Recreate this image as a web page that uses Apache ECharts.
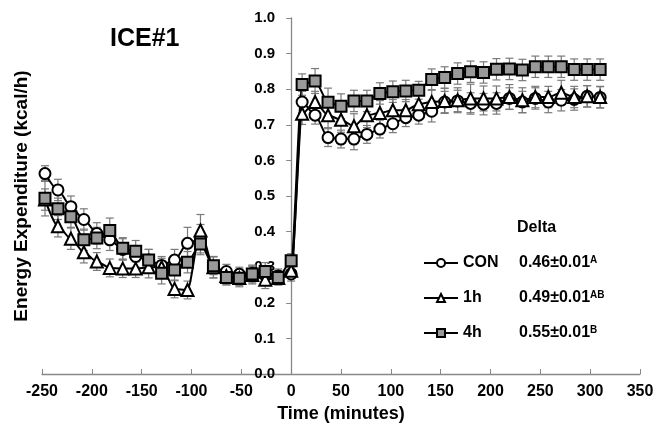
<!DOCTYPE html>
<html>
<head>
<meta charset="utf-8">
<title>ICE#1</title>
<script src="https://cdn.jsdelivr.net/npm/echarts@6/dist/echarts.min.js"></script>
<style>
html,body{margin:0;padding:0;background:#fff}
#chart{width:653px;height:425px}
</style>
</head>
<body>
<div id="chart"></div>
<script>
// time points (minutes)
var times = [-247,-234,-221,-208,-195,-182,-169,-156,-143,-130,-117,-104,-91,-78,-65,-52,-39,-26,-13,0,
             11,24,37,50,63,76,89,102,115,128,141,154,167,180,193,206,219,232,245,258,271,284,297,310];

var conMean = [0.563,0.517,0.47,0.434,0.395,0.377,0.35,0.33,0.32,0.305,0.32,0.367,0.38,0.30,0.288,0.28,0.283,0.278,0.275,0.281,
               0.764,0.727,0.664,0.66,0.66,0.673,0.688,0.703,0.72,0.727,0.738,0.764,0.767,0.76,0.758,0.76,0.774,0.764,0.774,0.764,0.769,0.771,0.78,0.777];
var conErr  = [0.022,0.03,0.03,0.03,0.03,0.03,0.03,0.03,0.03,0.025,0.03,0.045,0.04,0.03,0.02,0.02,0.02,0.02,0.02,0.02,
               0.03,0.025,0.025,0.025,0.03,0.025,0.025,0.025,0.025,0.025,0.03,0.03,0.03,0.03,0.03,0.03,0.03,0.03,0.03,0.03,0.03,0.03,0.03,0.03];

var h1Mean  = [0.49,0.415,0.38,0.342,0.316,0.298,0.296,0.296,0.30,0.30,0.239,0.236,0.403,0.30,0.275,0.27,0.278,0.265,0.27,0.29,
               0.731,0.764,0.727,0.714,0.696,0.727,0.733,0.741,0.741,0.758,0.764,0.767,0.769,0.774,0.774,0.774,0.778,0.769,0.778,0.778,0.79,0.778,0.78,0.778];
var h1Err   = [0.03,0.03,0.03,0.03,0.025,0.025,0.025,0.025,0.03,0.025,0.025,0.025,0.045,0.03,0.025,0.025,0.025,0.025,0.02,0.02,
               0.03,0.03,0.035,0.035,0.035,0.035,0.035,0.03,0.03,0.03,0.035,0.035,0.035,0.04,0.035,0.035,0.035,0.035,0.03,0.03,0.035,0.03,0.03,0.03];

var h4Mean  = [0.494,0.464,0.442,0.377,0.382,0.403,0.353,0.345,0.32,0.283,0.292,0.314,0.365,0.304,0.271,0.269,0.281,0.288,0.271,0.318,
               0.813,0.823,0.763,0.752,0.767,0.767,0.788,0.793,0.795,0.797,0.827,0.833,0.844,0.849,0.847,0.856,0.857,0.854,0.863,0.863,0.863,0.855,0.855,0.855];
var h4Err   = [0.05,0.03,0.03,0.03,0.03,0.035,0.03,0.03,0.03,0.03,0.03,0.03,0.03,0.025,0.02,0.02,0.025,0.025,0.02,0.02,
               0.03,0.035,0.04,0.035,0.03,0.03,0.03,0.03,0.03,0.025,0.03,0.03,0.03,0.03,0.03,0.03,0.03,0.03,0.03,0.03,0.03,0.03,0.03,0.03];

var legendNames = ['CON', '1h', '4h'];
var deltaText = ['0.46\u00b10.01', '0.49\u00b10.01', '0.55\u00b10.01'];
var deltaSup = ['A', 'AB', 'B'];

var FONT = '"Liberation Sans", Arial, sans-serif';
var GRID_LEFT = 42, GRID_RIGHT = 13, X_MIN = -250, X_MAX = 350;

function pairs(mean) {
  return times.map(function (t, i) { return [t, mean[i]]; });
}

function errBars(mean, err) {
  return {
    type: 'custom',
    silent: true,
    z: 1,
    data: times.map(function (t, i) { return [t, mean[i] - err[i], mean[i] + err[i]]; }),
    encode: { x: 0, y: [1, 2] },
    renderItem: function (params, api) {
      var lo = api.coord([api.value(0), api.value(1)]);
      var hi = api.coord([api.value(0), api.value(2)]);
      var w = 4;
      var st = { stroke: '#7a7a7a', lineWidth: 1.2 };
      return {
        type: 'group',
        children: [
          { type: 'line', shape: { x1: lo[0], y1: lo[1], x2: hi[0], y2: hi[1] }, style: st },
          { type: 'line', shape: { x1: lo[0] - w, y1: lo[1], x2: lo[0] + w, y2: lo[1] }, style: st },
          { type: 'line', shape: { x1: hi[0] - w, y1: hi[1], x2: hi[0] + w, y2: hi[1] }, style: st }
        ]
      };
    }
  };
}

function lineSeries(name, mean, symbol, size, fill) {
  return {
    name: name,
    type: 'line',
    z: 3,
    data: pairs(mean),
    symbol: symbol,
    symbolSize: size,
    showAllSymbol: true,
    smooth: 0.25,
    smoothMonotone: 'x',
    lineStyle: { color: '#000', width: 2 },
    itemStyle: { color: fill, borderColor: '#000', borderWidth: 2 },
    emphasis: { disabled: true }
  };
}

var el = document.getElementById('chart');
var chart = echarts.init(el);
// y axis sits at time 0: shift it right from the grid's left edge
var plotW = el.clientWidth - GRID_LEFT - GRID_RIGHT;
var yShift = -plotW * (0 - X_MIN) / (X_MAX - X_MIN);

chart.setOption({
  animation: false,
  backgroundColor: '#fff',
  title: {
    text: 'ICE#1',
    left: 105,
    top: 22,
    textStyle: { fontFamily: FONT, fontSize: 25, fontWeight: 'bold', color: '#000' }
  },
  grid: { left: GRID_LEFT, right: GRID_RIGHT, top: 18, bottom: 51, outerBoundsMode: 'none', containLabel: false },
  xAxis: {
    type: 'value',
    min: X_MIN,
    max: X_MAX,
    interval: 50,
    name: 'Time (minutes)',
    nameLocation: 'middle',
    nameGap: 28,
    nameTextStyle: { fontFamily: FONT, fontSize: 18, fontWeight: 'bold', color: '#000' },
    axisLine: { onZero: false, lineStyle: { color: '#888', width: 1.3 } },
    axisTick: { inside: true, length: 5, lineStyle: { color: '#888' } },
    axisLabel: { margin: 10, fontFamily: FONT, fontSize: 16, fontWeight: 'bold', color: '#000' },
    splitLine: { show: false }
  },
  yAxis: {
    type: 'value',
    min: 0,
    max: 1,
    interval: 0.1,
    offset: yShift,
    axisLine: { show: true, onZero: false, lineStyle: { color: '#888', width: 1.3 } },
    axisTick: { show: true, length: 5, lineStyle: { color: '#888' } },
    axisLabel: {
      margin: 16, fontFamily: FONT, fontSize: 15, fontWeight: 'bold', color: '#000',
      formatter: function (v) { return v.toFixed(1); }
    },
    splitLine: { show: false }
  },
  legend: {
    data: legendNames,
    orient: 'vertical',
    left: 423,
    top: 255,
    padding: 0,
    itemWidth: 34,
    itemHeight: 10,
    itemGap: 19,
    selectedMode: false,
    formatter: function (name) {
      var i = legendNames.indexOf(name);
      return '{n|' + name + '}{v|' + deltaText[i] + '}{s|' + deltaSup[i] + '}';
    },
    textStyle: {
      rich: {
        n: { width: 56, fontFamily: FONT, fontSize: 16, fontWeight: 'bold', color: '#000', lineHeight: 16 },
        v: { fontFamily: FONT, fontSize: 16, fontWeight: 'bold', color: '#000', lineHeight: 16 },
        s: { fontFamily: FONT, fontSize: 10, fontWeight: 'bold', color: '#000', lineHeight: 10, verticalAlign: 'top' }
      }
    }
  },
  graphic: [
    {
      type: 'text',
      x: 22,
      y: 196,
      rotation: Math.PI / 2,
      style: {
        text: 'Energy Expenditure (kcal/h)',
        font: 'bold 19px ' + FONT,
        fill: '#000',
        textAlign: 'center',
        textVerticalAlign: 'middle'
      }
    },
    {
      type: 'text',
      left: 517,
      top: 220,
      style: { text: 'Delta', font: 'bold 16px ' + FONT, fill: '#000' }
    }
  ],
  series: [
    errBars(conMean, conErr),
    errBars(h1Mean, h1Err),
    errBars(h4Mean, h4Err),
    lineSeries('CON', conMean, 'circle', 11, '#fff'),
    lineSeries('1h', h1Mean, 'triangle', 12, '#fff'),
    lineSeries('4h', h4Mean, 'rect', 11, '#999')
  ]
});
</script>
</body>
</html>
